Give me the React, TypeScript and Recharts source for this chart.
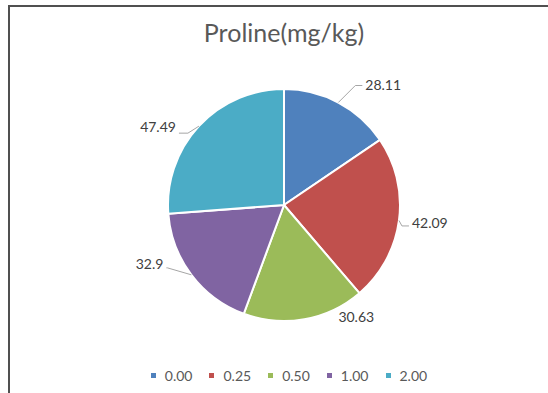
import { PieChart, Pie, Cell, Legend } from 'recharts';

const CATEGORIES = ['0.00', '0.25', '0.50', '1.00', '2.00'];
const PROLINE = [28.11, 42.09, 30.63, 32.9, 47.49];
const COLORS = ['#4F81BD', '#C0504D', '#9BBB59', '#8064A2', '#4BACC6'];

// leader end offset from the slice edge, elbow length, text shift, and whether a leader is drawn
const LABEL_LAYOUT = [
  { dx: 17, dy: -17, h: 7, ty: -1, line: true },
  { dx: 3, dy: 5.5, h: 7, ty: -3.5, line: true },
  { dx: 31, dy: -3, h: 0, ty: 0, line: false },
  { dx: -24, dy: -7, h: -1, ty: -4, line: true },
  { dx: -11, dy: 7, h: -9, ty: -7, line: true },
];

const data = CATEGORIES.map((name, i) => ({ name, value: PROLINE[i] }));

const FONT = 'Lato, "Open Sans", sans-serif';
const RAD = Math.PI / 180;

const renderLabel = (props: any) => {
  const { cx, cy, midAngle, outerRadius, index, value } = props;
  const lay = LABEL_LAYOUT[index];
  const ex = cx + outerRadius * Math.cos(-midAngle * RAD);
  const ey = cy + outerRadius * Math.sin(-midAngle * RAD);
  const lx = ex + lay.dx;
  const ly = ey + lay.dy;
  const side = lay.dx + lay.h >= 0 ? 1 : -1;
  const hx = lx + lay.h;
  return (
    <g key={`label-${index}`}>
      {lay.line && (
        <polyline
          points={`${ex},${ey} ${lx},${ly} ${hx},${ly}`}
          fill="none"
          stroke="#A6A6A6"
          strokeWidth={1}
        />
      )}
      <text
        x={hx + side * 3}
        y={ly + lay.ty}
        textAnchor={side > 0 ? 'start' : 'end'}
        dominantBaseline="central"
        fill="#404040"
        fontSize={14}
        fontFamily={FONT}
      >
        {value}
      </text>
    </g>
  );
};

const renderLegend = () => (
  <div
    style={{
      display: 'flex',
      justifyContent: 'center',
      alignItems: 'center',
      fontFamily: FONT,
      fontSize: 14,
      lineHeight: '17px',
      color: '#595959',
    }}
  >
    {CATEGORIES.map((c, i) => (
      <div key={c} style={{ display: 'flex', alignItems: 'center', marginRight: i < CATEGORIES.length - 1 ? 17 : 0 }}>
        <span style={{ width: 5, height: 5, background: COLORS[i], marginRight: 9, display: 'inline-block' }} />
        <span>{c}</span>
      </div>
    ))}
  </div>
);

export default function App() {
  return (
    <div
      style={{
        position: 'absolute',
        top: 5,
        left: 8,
        width: 540,
        height: 388,
        boxSizing: 'border-box',
        borderTop: '2px solid #505050',
        borderLeft: '2px solid #505050',
        background: '#fff',
        overflow: 'hidden',
      }}
    >
      <div
        style={{
          position: 'absolute',
          top: 11,
          left: 0,
          width: 548,
          textAlign: 'center',
          fontFamily: FONT,
          fontSize: 25,
          lineHeight: '28px',
          color: '#595959',
          zIndex: 1,
        }}
      >
        Proline(mg/kg)
      </div>
      <PieChart width={538} height={386} margin={{ top: 0, right: 0, bottom: 0, left: 0 }}>
        <Pie
          data={data}
          dataKey="value"
          nameKey="name"
          cx={274}
          cy={198}
          outerRadius={116}
          startAngle={90}
          endAngle={-270}
          stroke="#FFFFFF"
          strokeWidth={2}
          label={renderLabel}
          labelLine={false}
          isAnimationActive={false}
        >
          {data.map((_, i) => (
            <Cell key={`cell-${i}`} fill={COLORS[i]} />
          ))}
        </Pie>
        <Legend
          content={renderLegend}
          wrapperStyle={{ left: 10, top: 360, width: 538, bottom: 'auto' }}
        />
      </PieChart>
    </div>
  );
}
